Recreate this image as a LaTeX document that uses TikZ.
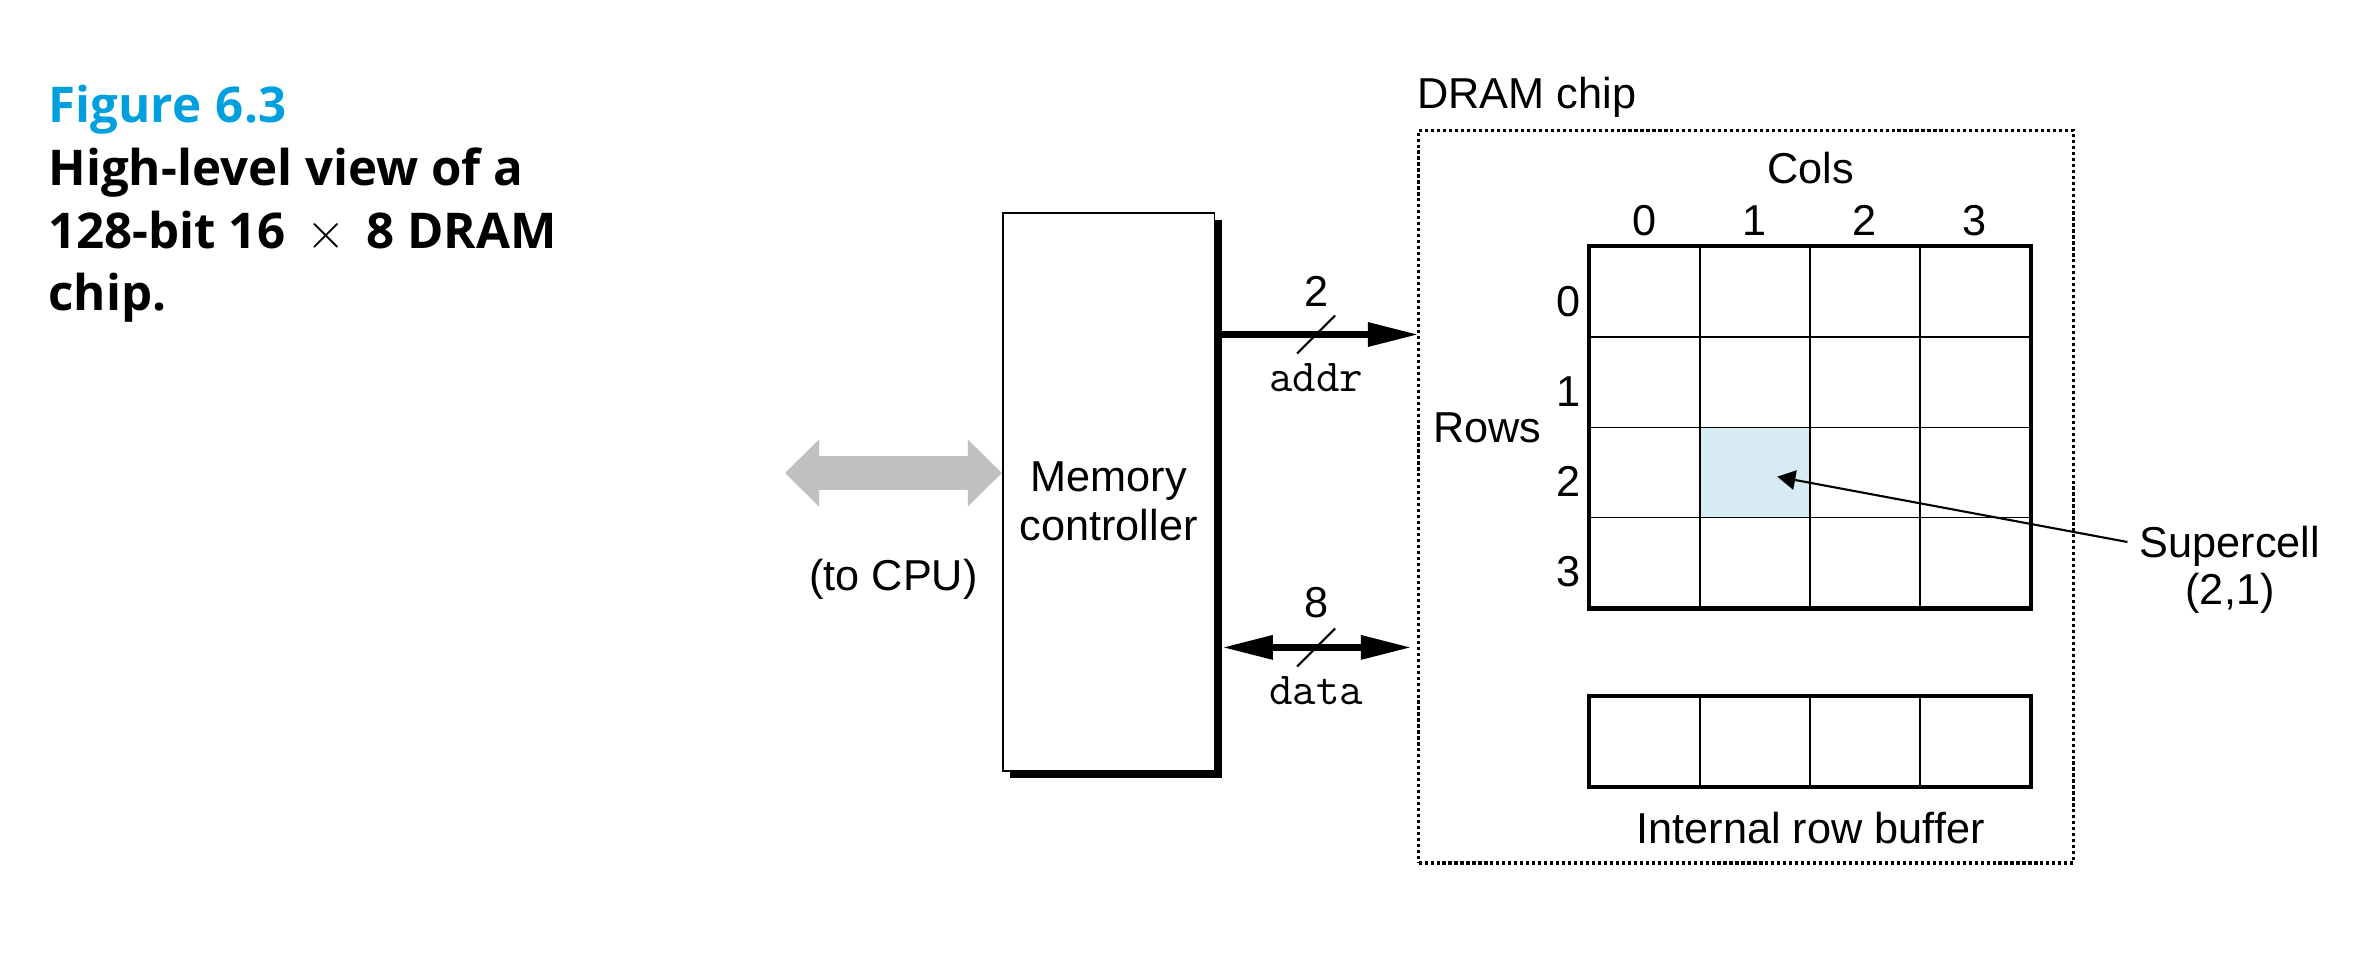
\documentclass[tikz,border=0pt]{standalone}
\usepackage{fontspec}
\setmainfont{Liberation Sans}
\newfontfamily\capfont{Open Sans}
\usetikzlibrary{arrows.meta,positioning,shadows}

\definecolor{figcyan}{RGB}{0,160,222}
\definecolor{cellblue}{RGB}{214,236,242}
\definecolor{cpugray}{RGB}{192,192,192}
\newcommand\capspacing{\spaceskip=0.3em plus 0.1em\relax}

\begin{document}
\begin{tikzpicture}[
    x=0.01cm, y=-0.01cm,
    every node/.style={font=\fontsize{12.3}{14}\selectfont},
    cellbox/.style={draw, line width=0.5pt, minimum width=1.1cm, minimum height=0.901cm, inner sep=0pt},
    bufbox/.style={cellbox, minimum height=0.89cm},
    ctrlbox/.style={draw, fill=white, line width=0.5pt, minimum width=2.117cm, minimum height=5.583cm,
        drop shadow={shadow xshift=0.07cm, shadow yshift=-0.07cm, fill=black, opacity=1}},
    chipbox/.style={draw, line width=1pt, dash pattern=on 0.9pt off 0.8pt,
        minimum width=6.545cm, minimum height=7.322cm},
    bus/.style={line width=1.9pt, -{Triangle[length=0.49cm, width=0.25cm, line width=0pt]}},
    bibus/.style={line width=1.9pt, {Triangle[length=0.49cm, width=0.25cm, line width=0pt]}-{Triangle[length=0.49cm, width=0.25cm, line width=0pt]}},
    cpubus/.style={cpugray, line width=0.347cm,
        {Triangle[length=0.34cm, width=0.67cm, line width=0pt]}-{Triangle[length=0.34cm, width=0.67cm, line width=0pt]}},
    widthmark/.style={line width=0.6pt},
    busname/.style={font=\fontsize{13}{15}\selectfont\ttfamily},
    pointer/.style={line width=0.6pt, -{Triangle[length=0.18cm, width=0.2cm, line width=0pt]}}
]
\useasboundingbox (0,0) rectangle (2364,960);

\node[anchor=north west, align=left, inner sep=0pt,
      font=\capfont\bfseries\fontsize{14}{17.9}\selectfont] (caption) at (47.8,84)
    {\capspacing\textcolor{figcyan}{Figure 6.3}\\High-level view of a\\128-bit 16 \,$\times$\, 8 DRAM\\chip.};

\node[ctrlbox] (mc) at (1108.65,491.95) {};
\node[align=center] (mctext) at ([yshift=-0.09cm]mc.center) {Memory\\controller};

\node[chipbox, label={[anchor=south west, inner sep=0pt, yshift=0.1cm]north west:DRAM chip}] (chip) at (1746,496.7) {};

\foreach \r in {0,...,3}
    \foreach \c in {0,...,3} {
        \ifnum\r\c=21 \def\cellfill{cellblue}\else\def\cellfill{none}\fi
        \node[cellbox, fill=\cellfill] (c\r\c) at (1644.7+110*\c, 292.25+90.1*\r) {};
    }
\draw[line width=1.2pt] (c00.north west) rectangle (c33.south east);

\foreach \c in {0,...,3}
    \node[bufbox] (b\c) at (1644.7+110*\c, 741.5) {};
\draw[line width=1.2pt] (b0.north west) rectangle (b3.south east);

\foreach \r in {0,...,3}
    \node[left=-0.04cm of c\r0.west, yshift=-0.09cm] (row\r) {\r};
\foreach \c in {0,...,3}
    \node[above=-0.02cm of c0\c.north] (col\c) {\c};
\node[above=0.5cm of c01.north east] (cols) {Cols};
\node[left=0.35cm of c10.south west] (rows) {Rows};
\node[below=0.13cm of b1.south east] (buflabel) {Internal row buffer};

\node[align=center, font=\fontsize{12.3}{13.2}\selectfont] (sc) at (2230,570) {Supercell\\(2,1)};
\draw[pointer, shorten >=0.23cm] ([yshift=0.28cm]sc.west) -- (c21.center);

\coordinate (addrlvl) at (0,334.5);
\coordinate (datalvl) at (0,647.4);
\draw[bus] (mc.east |- addrlvl) -- coordinate (addrmid)
    node[above=0.134cm] (addrw) {2}
    node[below=0.14cm, busname] (addrlbl) {addr} (chip.west |- addrlvl);
\draw[bibus, shorten <=0.085cm, shorten >=0.07cm] (mc.east |- datalvl) -- coordinate (datamid)
    node[above=0.14cm] (dataw) {8}
    node[below=0.14cm, busname] (datalbl) {data} (chip.west |- datalvl);
\draw[widthmark] ([shift={(-19,19)}]addrmid) -- ([shift={(19,-19)}]addrmid);
\draw[widthmark] ([shift={(-19,19)}]datamid) -- ([shift={(19,-19)}]datamid);

\coordinate (cpuend) at (785,473);
\draw[cpubus] (cpuend) -- node[below=0.57cm, text=black] (cpulbl) {(to CPU)} (cpuend -| mc.west);
\end{tikzpicture}
\end{document}
